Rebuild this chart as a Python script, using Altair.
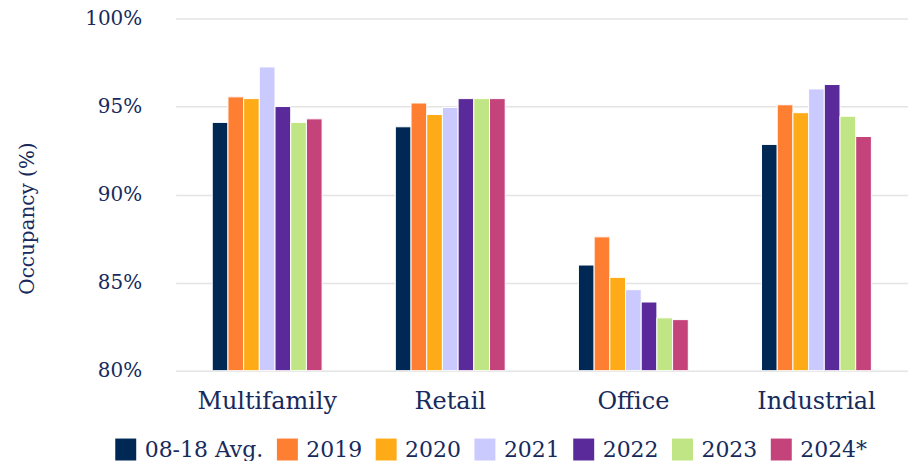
import altair as alt
import pandas as pd

categories = ["Multifamily", "Retail", "Office", "Industrial"]
series = ["08-18 Avg.", "2019", "2020", "2021", "2022", "2023", "2024*"]
multifamily = [94.1, 95.55, 95.45, 97.25, 95.0, 94.1, 94.3]
retail = [93.85, 95.2, 94.55, 94.95, 95.45, 95.45, 95.45]
office = [86.0, 87.6, 85.3, 84.6, 83.9, 83.0, 82.9]
industrial = [92.85, 95.1, 94.65, 96.0, 96.25, 94.45, 93.3]
colors = ["#002855", "#FF7F32", "#FFAB18", "#CACAFE", "#5A2A9A", "#C0E584", "#C4437B"]

rows = []
for cat, vals in zip(categories, [multifamily, retail, office, industrial]):
    for s, v in zip(series, vals):
        rows.append({"category": cat, "series": s, "value": v, "base": 80})
df = pd.DataFrame(rows)

FONT = "DejaVu Serif"
TXT = "#172a5c"

chart = alt.Chart(df).mark_bar(stroke="white", strokeWidth=1).encode(
    x=alt.X("category:N", sort=categories,
            scale=alt.Scale(paddingInner=0.4, paddingOuter=0.2),
            axis=alt.Axis(title=None, labelAngle=0, ticks=False, domain=False,
                          labelFont=FONT, labelFontSize=24, labelColor=TXT,
                          labelPadding=19, grid=False)),
    xOffset=alt.XOffset("series:N", sort=series, scale=alt.Scale(paddingInner=0, paddingOuter=0)),
    y=alt.Y("value:Q", scale=alt.Scale(domain=[80, 100], zero=False, nice=False),
            axis=alt.Axis(values=[80, 85, 90, 95, 100], labelExpr="datum.value + '%'",
                          title="Occupancy (%)", ticks=False, domain=False,
                          labelFont=FONT, labelFontSize=20, labelColor=TXT, labelPadding=34,
                          titleFont=FONT, titleFontSize=20, titleColor=TXT, titleFontWeight="normal",
                          titleX=-148, titleY=200, titleAngle=-90, titleBaseline="middle", titleAlign="center",
                          gridColor="#e4e4e4", gridWidth=1.5)),
    y2="base",
    color=alt.Color("series:N", sort=series,
                    scale=alt.Scale(domain=series, range=colors),
                    legend=alt.Legend(title=None, orient="none", direction="horizontal", columns=7,
                                      legendX=-61, legendY=421,
                                      symbolType="M-0.955,-1H0.955V1H-0.955Z", symbolSize=484,
                                      symbolStrokeWidth=0, labelFont=FONT, labelFontSize=22,
                                      labelColor=TXT, labelOffset=8, columnPadding=13)),
).properties(
    width=734, height=353, autosize="none",
    padding={"left": 168, "top": 10, "right": 0, "bottom": 90},
).configure_view(stroke=None)

chart.save("out.html", embed_options={"renderer": "svg", "actions": False})
